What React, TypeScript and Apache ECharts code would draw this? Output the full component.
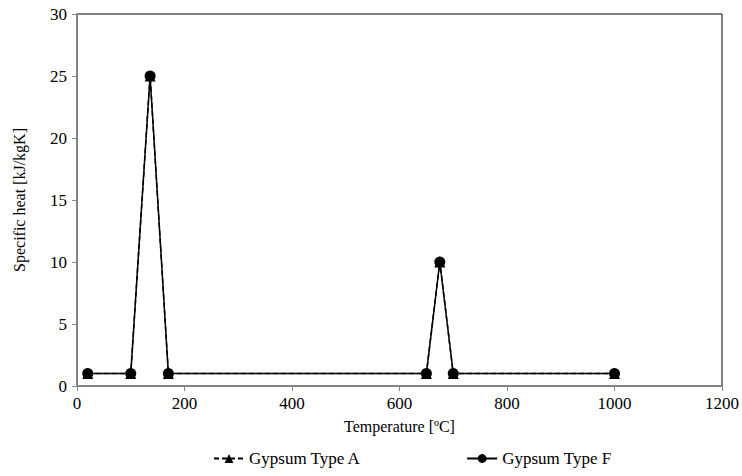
import React, { useEffect, useRef } from "react";
import * as echarts from "echarts";

const temperatureA = [20, 100, 136, 170, 650, 675, 700, 1000];
const specificHeatA = [1, 1, 25, 1, 1, 10, 1, 1];
const temperatureF = [20, 100, 136, 170, 650, 675, 700, 1000];
const specificHeatF = [1, 1, 25, 1, 1, 10, 1, 1];
const seriesNames = ["Gypsum Type A", "Gypsum Type F"];

const FONT = "Times New Roman";

export default function App() {
  const ref = useRef<HTMLDivElement>(null);
  useEffect(() => {
    if (!ref.current) return;
    const chart = echarts.init(ref.current, null, { renderer: "svg" });
    chart.setOption({
      animation: false,
      backgroundColor: "#ffffff",
      textStyle: { fontFamily: FONT, color: "#000" },
      grid: {
        left: 77,
        right: 20,
        top: 14,
        bottom: 90,
        show: true,
        borderColor: "#000",
        borderWidth: 1,
      },
      legend: {
        bottom: 4,
        left: 208,
        itemGap: 105,
        itemWidth: 30,
        itemHeight: 11,
        textStyle: { fontFamily: FONT, fontSize: 17, color: "#000" },
        data: seriesNames,
      },
      xAxis: {
        type: "value",
        min: 0,
        max: 1200,
        interval: 200,
        name: "Temperature [ºC]",
        nameLocation: "middle",
        nameGap: 32,
        nameTextStyle: { fontFamily: FONT, fontSize: 16, color: "#000" },
        axisLine: { show: true, lineStyle: { color: "#868686", width: 1.5 } },
        axisTick: { show: true, length: 5, lineStyle: { color: "#868686" } },
        axisLabel: {
          fontFamily: FONT,
          fontSize: 17,
          color: "#000",
          margin: 9,
          formatter: (v: number) => String(v),
        },
        splitLine: { show: false },
      },
      yAxis: {
        type: "value",
        min: 0,
        max: 30,
        interval: 5,
        name: "Specific heat [kJ/kgK]",
        nameLocation: "middle",
        nameGap: 50,
        nameTextStyle: { fontFamily: FONT, fontSize: 16, color: "#000" },
        axisLine: { show: true, lineStyle: { color: "#868686", width: 1.5 } },
        axisTick: { show: true, length: 5, lineStyle: { color: "#868686" } },
        axisLabel: {
          fontFamily: FONT,
          fontSize: 17,
          color: "#000",
          margin: 10,
          formatter: (v: number) => String(v),
        },
        splitLine: { show: false },
      },
      series: [
        {
          name: seriesNames[0],
          type: "line",
          data: temperatureA.map((t, i) => [t, specificHeatA[i]]),
          symbol: "triangle",
          symbolSize: 11,
          itemStyle: { color: "#000" },
          lineStyle: { color: "#000", width: 1.5, type: [5, 3] },
          z: 2,
        },
        {
          name: seriesNames[1],
          type: "line",
          data: temperatureF.map((t, i) => [t, specificHeatF[i]]),
          symbol: "circle",
          symbolSize: 11,
          itemStyle: { color: "#000" },
          lineStyle: { color: "#000", width: 1.5 },
          z: 3,
        },
      ],
    });
    return () => chart.dispose();
  }, []);
  return <div ref={ref} style={{ width: 742, height: 476, position: "absolute", left: 0, top: 0 }} />;
}
